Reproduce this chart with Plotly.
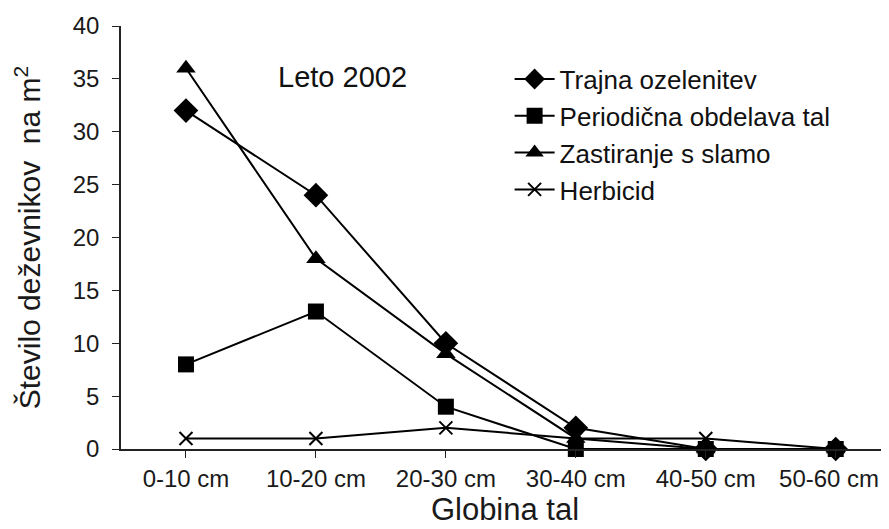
import plotly.graph_objects as go

categories = ["0-10 cm", "10-20 cm", "20-30 cm", "30-40 cm", "40-50 cm", "50-60 cm"]
trajna = [32, 24, 10, 2, 0, 0]
periodicna = [8, 13, 4, 0, 0, 0]
zastiranje = [36, 18, 9, 1, 0, 0]
herbicid = [1, 1, 2, 1, 1, 0]

series = [
    ("Trajna ozelenitev", trajna, "diamond", 19, 0),
    ("Periodična obdelava tal", periodicna, "square", 16, 0),
    ("Zastiranje s slamo", zastiranje, "triangle-up", 17, 0),
    ("Herbicid", herbicid, "x-thin", 13, 2),
]

# last label nudged left slightly so it fits inside the picture, as in the reference
tick_text = categories[:-1] + [categories[-1] + "\u00a0\u00a0"]

FONT = "Liberation Sans, Arial, sans-serif"
fig = go.Figure()
for name, vals, sym, size, lw in series:
    fig.add_trace(go.Scatter(
        x=list(range(len(categories))), y=vals, name=name, mode="lines+markers",
        line=dict(color="black", width=2),
        marker=dict(symbol=sym, size=size, color="black",
                    line=dict(color="black", width=lw)),
        cliponaxis=False,
    ))

fig.update_layout(
    width=881, height=521,
    margin=dict(l=113, r=0, t=18, b=80),
    paper_bgcolor="white", plot_bgcolor="white",
    font=dict(family=FONT, color="#1a1a1a", size=24),
    showlegend=True,
    legend=dict(x=0.506, y=0.93, xanchor="left", yanchor="top",
                font=dict(size=26, color="#111"), bgcolor="rgba(0,0,0,0)",
                tracegroupgap=0, itemwidth=40),
    annotations=[dict(text="Leto 2002", x=0.289, y=0.880, xref="paper", yref="paper",
                      showarrow=False, xanchor="center", yanchor="middle",
                      font=dict(size=29, color="#111"))],
)
fig.update_xaxes(
    tickmode="array", tickvals=list(range(len(categories))), ticktext=tick_text,
    range=[-0.5, 5.41], showline=True, linecolor="#222", linewidth=1.5,
    ticks="outside", ticklen=7, tickcolor="#222", tickson="boundaries",
    ticklabeloverflow="allow",
    showgrid=False, zeroline=False, tickfont=dict(size=24), automargin=False,
    title=dict(text="Globina tal", font=dict(size=31), standoff=4),
)
fig.update_yaxes(
    range=[0, 40], dtick=5, showline=True, linecolor="#222", linewidth=1.5,
    ticks="outside", ticklen=7, tickcolor="#222", showgrid=False, zeroline=False,
    tickfont=dict(size=24), automargin=False, ticklabelstandoff=8,
    title=dict(text="Število deževnikov  na m<sup>2</sup>", font=dict(size=30), standoff=23),
)
fig.write_html("out.html")
